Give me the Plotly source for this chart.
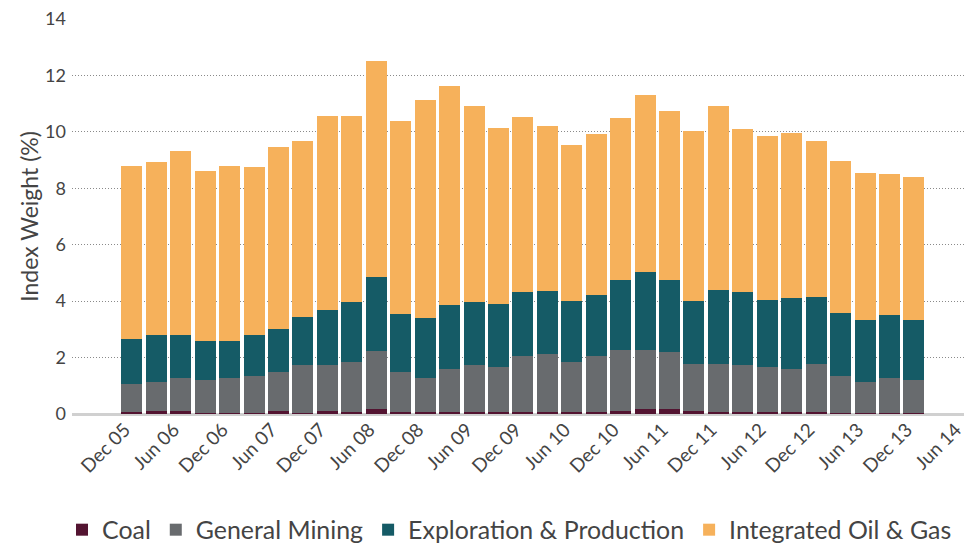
import plotly.graph_objects as go

quarters = ["Dec 05", "Mar 06", "Jun 06", "Sep 06", "Dec 06", "Mar 07", "Jun 07", "Sep 07",
            "Dec 07", "Mar 08", "Jun 08", "Sep 08", "Dec 08", "Mar 09", "Jun 09", "Sep 09",
            "Dec 09", "Mar 10", "Jun 10", "Sep 10", "Dec 10", "Mar 11", "Jun 11", "Sep 11",
            "Dec 11", "Mar 12", "Jun 12", "Sep 12", "Dec 12", "Mar 13", "Jun 13", "Sep 13",
            "Dec 13"]
axis_extra = ["Mar 14", "Jun 14"]
tick_labels = ["Dec 05", "Jun 06", "Dec 06", "Jun 07", "Dec 07", "Jun 08", "Dec 08", "Jun 09",
               "Dec 09", "Jun 10", "Dec 10", "Jun 11", "Dec 11", "Jun 12", "Dec 12", "Jun 13",
               "Dec 13", "Jun 14"]

coal = [0.06, 0.12, 0.09, 0.05, 0.05, 0.05, 0.09, 0.05, 0.09, 0.08, 0.19, 0.08, 0.08, 0.08,
        0.08, 0.08, 0.08, 0.08, 0.08, 0.08, 0.12, 0.19, 0.19, 0.12, 0.08, 0.08, 0.08, 0.08,
        0.08, 0.04, 0.04, 0.04, 0.04]
general_mining = [1.02, 1.03, 1.17, 1.17, 1.21, 1.31, 1.41, 1.67, 1.63, 1.75, 2.03, 1.40, 1.18,
                  1.53, 1.67, 1.60, 1.99, 2.06, 1.78, 1.99, 2.16, 2.09, 1.99, 1.67, 1.71, 1.67,
                  1.57, 1.53, 1.71, 1.29, 1.08, 1.22, 1.15]
exploration = [1.59, 1.66, 1.55, 1.35, 1.31, 1.45, 1.52, 1.73, 1.98, 2.15, 2.65, 2.08, 2.16,
               2.27, 2.23, 2.23, 2.27, 2.23, 2.16, 2.16, 2.48, 2.76, 2.58, 2.23, 2.62, 2.59,
               2.40, 2.51, 2.37, 2.26, 2.22, 2.26, 2.15]
integrated = [6.13, 6.13, 6.52, 6.05, 6.23, 5.96, 6.45, 6.24, 6.87, 6.59, 7.64, 6.83, 7.71,
              7.75, 6.94, 6.23, 6.19, 5.85, 5.52, 5.70, 5.74, 6.27, 5.99, 6.02, 6.51, 5.77,
              5.81, 5.85, 5.53, 5.39, 5.21, 5.00, 5.07]

series = [
    ("Coal", coal, "#531431"),
    ("General Mining", general_mining, "#686b6e"),
    ("Exploration & Production", exploration, "#155b66"),
    ("Integrated Oil & Gas", integrated, "#f6b15b"),
]

FONT = "Lato"
TXT = "#444444"

fig = go.Figure()
for name, vals, color in series:
    fig.add_trace(go.Bar(x=quarters, y=vals, name=name, marker=dict(color=color, line=dict(width=0))))

fig.update_layout(
    barmode="stack",
    bargap=0.14,
    width=964,
    height=546,
    margin=dict(l=72, r=0, t=19, b=131.5),
    paper_bgcolor="white",
    plot_bgcolor="white",
    font=dict(family=FONT, color=TXT, size=18),
    legend=dict(
        orientation="h",
        traceorder="normal",
        xref="paper",
        x=0.4905, xanchor="center",
        yref="container",
        y=0.0293, yanchor="middle",
        font=dict(family=FONT, size=24.9, color=TXT),
        itemclick=False,
    ),
    xaxis=dict(
        type="category",
        categoryorder="array",
        categoryarray=quarters + axis_extra,
        tickmode="array",
        tickvals=tick_labels,
        ticktext=tick_labels,
        tickangle=-45,
        tickfont=dict(family=FONT, size=19, color=TXT),
        ticklabelshift=-7,
        range=[-2.45, 34.05],
        showgrid=False,
        showline=False,
        ticks="",
        automargin=False,
    ),
    yaxis=dict(
        range=[0, 14],
        tickvals=[0, 2, 4, 6, 8, 10, 12, 14],
        tickfont=dict(family=FONT, size=18, color=TXT),
        showgrid=True,
        gridcolor="#8a8a8a",
        griddash="1px,2px",
        gridwidth=1,
        zeroline=True,
        zerolinecolor="#d0d0d0",
        zerolinewidth=3,
        showline=False,
        ticks="",
        ticklabelstandoff=5,
        title=dict(text="Index Weight (%)", font=dict(family=FONT, size=23, color=TXT), standoff=0),
        automargin=False,
    ),
)

fig.write_html(
    "out.html",
    config={"displayModeBar": False},
    post_script="document.body.style.margin='0';",
)
